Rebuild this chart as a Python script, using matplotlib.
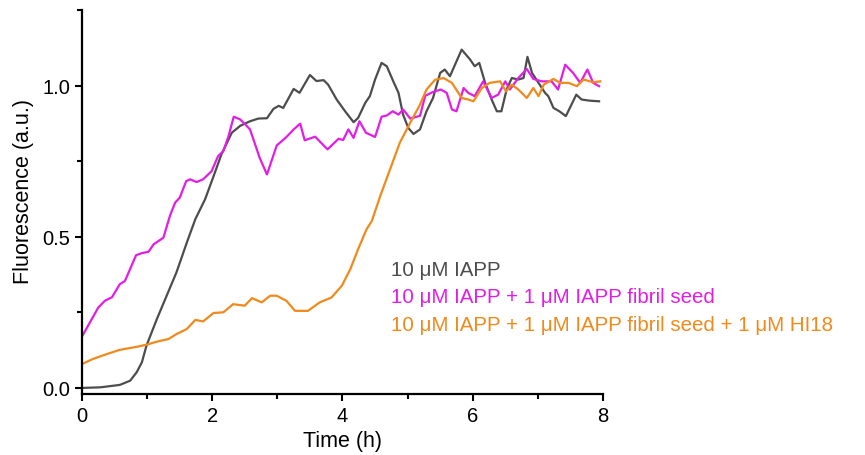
import matplotlib
matplotlib.use("Agg")
import matplotlib.pyplot as plt
from matplotlib.ticker import MultipleLocator

plt.rcParams['font.family'] = ['Liberation Sans', 'DejaVu Sans']

# 10 uM IAPP
t_iapp = [0.00, 0.28, 0.58, 0.74, 0.84, 0.92, 0.99, 1.15, 1.30, 1.45, 1.61, 1.74,
          1.89, 2.02, 2.14, 2.30, 2.43, 2.58, 2.71, 2.84, 2.94, 3.02, 3.09, 3.25,
          3.34, 3.50, 3.60, 3.71, 3.78, 3.91, 4.04, 4.17, 4.24, 4.35, 4.42, 4.50,
          4.60, 4.68, 4.78, 4.86, 4.93, 5.01, 5.09, 5.19, 5.29, 5.39, 5.50, 5.57,
          5.65, 5.83, 5.96, 6.03, 6.10, 6.19, 6.29, 6.37, 6.44, 6.52, 6.60, 6.70,
          6.78, 6.84, 6.91, 7.01, 7.11, 7.16, 7.24, 7.33, 7.43, 7.59, 7.67, 7.80,
          7.94]
f_iapp = [0.000, 0.002, 0.010, 0.024, 0.052, 0.085, 0.140, 0.228, 0.305, 0.382,
          0.481, 0.558, 0.624, 0.700, 0.772, 0.844, 0.867, 0.882, 0.891, 0.892,
          0.923, 0.933, 0.926, 0.989, 0.976, 1.035, 1.015, 1.018, 1.003, 0.954,
          0.915, 0.879, 0.893, 0.943, 0.965, 1.020, 1.075, 1.064, 1.014, 0.976,
          0.904, 0.860, 0.840, 0.855, 0.915, 0.959, 1.042, 1.053, 1.031, 1.119,
          1.086, 1.064, 1.075, 1.009, 0.954, 0.915, 0.915, 0.987, 1.025, 1.020,
          1.025, 1.095, 1.042, 1.009, 0.976, 0.965, 0.926, 0.915, 0.899, 0.970,
          0.954, 0.950, 0.948]

# 10 uM IAPP + 1 uM IAPP fibril seed
t_seed = [0.00, 0.25, 0.35, 0.46, 0.58, 0.66, 0.83, 0.92, 1.02, 1.10, 1.25, 1.35,
          1.43, 1.50, 1.60, 1.66, 1.76, 1.86, 1.99, 2.09, 2.17, 2.25, 2.33, 2.43,
          2.58, 2.73, 2.84, 2.99, 3.14, 3.25, 3.35, 3.42, 3.58, 3.77, 3.94, 4.01,
          4.09, 4.17, 4.26, 4.36, 4.50, 4.60, 4.68, 4.77, 4.86, 4.93, 5.04, 5.19,
          5.27, 5.38, 5.51, 5.60, 5.68, 5.75, 5.86, 5.93, 6.03, 6.16, 6.29, 6.39,
          6.50, 6.57, 6.70, 6.83, 6.93, 7.06, 7.21, 7.31, 7.42, 7.54, 7.65, 7.76,
          7.85, 7.94]
f_seed = [0.170, 0.266, 0.288, 0.300, 0.343, 0.354, 0.439, 0.446, 0.450, 0.475,
          0.497, 0.569, 0.613, 0.629, 0.684, 0.690, 0.681, 0.690, 0.717, 0.767,
          0.783, 0.833, 0.897, 0.888, 0.855, 0.760, 0.706, 0.802, 0.830, 0.855,
          0.874, 0.819, 0.831, 0.789, 0.824, 0.820, 0.855, 0.827, 0.882, 0.844,
          0.830, 0.897, 0.901, 0.915, 0.904, 0.921, 0.891, 0.900, 0.966, 0.978,
          0.987, 0.976, 0.921, 0.915, 0.992, 0.976, 0.965, 1.014, 0.959, 0.970,
          1.014, 0.987, 1.025, 1.055, 1.022, 1.014, 1.014, 0.987, 1.069, 1.042,
          1.009, 1.053, 1.009, 0.998]

# 10 uM IAPP + 1 uM IAPP fibril seed + 1 uM HI18
t_hi18 = [0.00, 0.17, 0.38, 0.58, 0.84, 0.99, 1.15, 1.33, 1.45, 1.61, 1.74, 1.86,
          2.02, 2.17, 2.32, 2.50, 2.61, 2.76, 2.89, 2.99, 3.14, 3.27, 3.47, 3.65,
          3.83, 3.99, 4.12, 4.24, 4.37, 4.45, 4.58, 4.73, 4.88, 5.04, 5.19, 5.29,
          5.42, 5.55, 5.68, 5.83, 5.93, 6.01, 6.14, 6.26, 6.42, 6.51, 6.60, 6.70,
          6.83, 6.93, 7.01, 7.09, 7.24, 7.34, 7.47, 7.60, 7.70, 7.85, 7.96]
f_hi18 = [0.079, 0.096, 0.112, 0.126, 0.136, 0.143, 0.153, 0.162, 0.178, 0.195,
          0.225, 0.220, 0.248, 0.250, 0.277, 0.272, 0.297, 0.283, 0.305, 0.305,
          0.288, 0.255, 0.255, 0.283, 0.299, 0.338, 0.393, 0.459, 0.525, 0.552,
          0.635, 0.723, 0.811, 0.877, 0.937, 0.987, 1.019, 1.025, 1.009, 0.959,
          0.954, 0.948, 0.992, 1.009, 1.014, 0.981, 1.003, 0.987, 0.959, 0.992,
          0.965, 1.003, 1.022, 1.009, 1.009, 0.998, 1.020, 1.011, 1.014]

labels = ["10 \u03bcM IAPP",
          "10 \u03bcM IAPP + 1 \u03bcM IAPP fibril seed",
          "10 \u03bcM IAPP + 1 \u03bcM IAPP fibril seed + 1 \u03bcM HI18"]
colors = ["#4d4d4d", "#e21ee6", "#f08a1c"]

fig = plt.figure(figsize=(8.65, 4.56), dpi=100)
ax = fig.add_axes([0.0948, 0.1338, 0.6023, 0.8421])

ax.plot(t_iapp, f_iapp, color=colors[0], lw=1.6)
ax.plot(t_seed, f_seed, color=colors[1], lw=1.6)
ax.plot(t_hi18, f_hi18, color=colors[2], lw=1.6)

ax.set_xlim(0, 8)
ax.set_ylim(-0.02, 1.25)
ax.xaxis.set_major_locator(MultipleLocator(2))
ax.xaxis.set_minor_locator(MultipleLocator(1))
ax.yaxis.set_major_locator(MultipleLocator(0.5))
ax.yaxis.set_minor_locator(MultipleLocator(0.25))
ax.yaxis.set_major_formatter(plt.FuncFormatter(lambda v, p: f"{v:.1f}"))

for s in ["top", "right"]:
    ax.spines[s].set_visible(False)
for s in ["left", "bottom"]:
    ax.spines[s].set_linewidth(1.6)

ax.tick_params(which="major", direction="out", length=5, width=1.5, labelsize=14.5)
ax.tick_params(axis="x", which="major", pad=4)
ax.tick_params(which="minor", direction="out", length=3.5, width=1.5)

ax.set_xlabel("Time (h)", fontsize=15.5)
ax.xaxis.set_label_coords(0.5, -0.093)
ax.set_ylabel("Fluorescence (a.u.)", fontsize=15.5)
ax.yaxis.set_label_coords(-0.092, 0.53)

for i, (lab, c) in enumerate(zip(labels, colors)):
    ax.text(0.594, 0.325 - i * 0.0715, lab, color=c, fontsize=14.8,
            transform=ax.transAxes, va="center", ha="left", clip_on=False)

fig.savefig("out.png", dpi=100)
